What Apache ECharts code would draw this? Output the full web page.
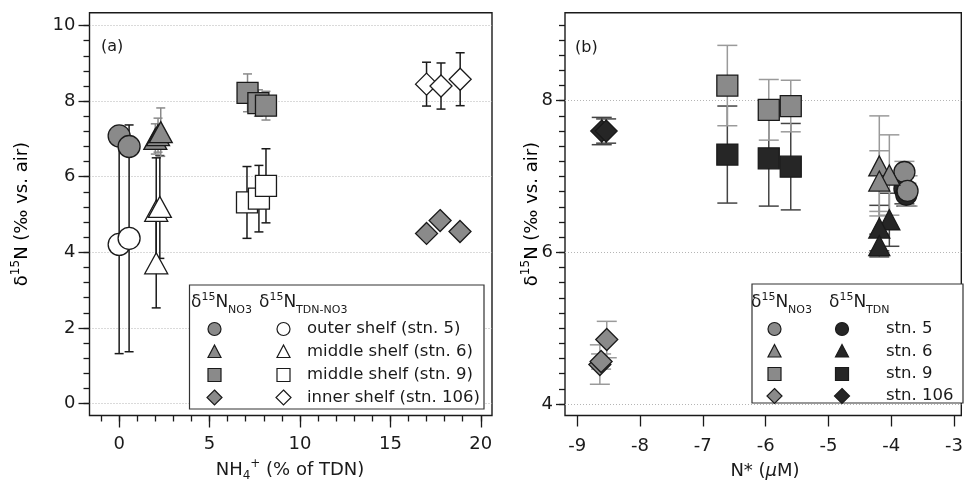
<!DOCTYPE html>
<html>
<head>
<meta charset="utf-8">
<script src="https://cdn.jsdelivr.net/npm/echarts@6/dist/echarts.min.js"></script>
<style>
  html, body { margin: 0; padding: 0; background: #fff; }
  #chart { width: 966px; height: 482px; }
</style>
</head>
<body>
<div id="chart"></div>
<script>
// ---- Panel (a): δ15N vs NH4+ (% of TDN); each point is [x, y, error] ----
const a_no3_stn5   = [[0.0, 7.08, 0.12], [0.55, 6.80, 0.12]];
const a_tdn_stn5   = [[0.0, 4.21, 2.89], [0.55, 4.37, 3.00]];
const a_no3_stn6   = [[2.0, 7.00, 0.40], [2.15, 7.10, 0.45], [2.3, 7.18, 0.64]];
const a_tdn_stn6   = [[2.05, 5.10, 1.40], [2.25, 5.20, 1.36], [2.05, 3.71, 1.18]];
const a_no3_stn9   = [[7.1, 8.22, 0.50], [7.7, 7.95, 0.35], [8.12, 7.88, 0.38]];
const a_tdn_stn9   = [[7.07, 5.32, 0.95], [7.73, 5.42, 0.88], [8.12, 5.76, 0.98]];
const a_no3_stn106 = [[17.0, 4.50, 0.10], [17.75, 4.84, 0.10], [18.85, 4.55, 0.10]];
const a_tdn_stn106 = [[17.0, 8.45, 0.58], [17.8, 8.40, 0.61], [18.86, 8.58, 0.70]];

// ---- Panel (b): δ15N vs N* (µM) ----
const b_no3_stn5   = [[-3.79, 7.06, 0.14], [-3.74, 6.81, 0.20]];
const b_tdn_stn5   = [[-3.79, 6.84, 0.20], [-3.76, 6.76, 0.15]];
const b_no3_stn6   = [[-4.19, 7.14, 0.66], [-4.03, 7.02, 0.53], [-4.19, 6.94, 0.40]];
const b_tdn_stn6   = [[-4.03, 6.43, 0.35], [-4.19, 6.32, 0.30], [-4.19, 6.09, 0.15]];
const b_no3_stn9   = [[-6.61, 8.20, 0.53], [-5.95, 7.88, 0.40], [-5.6, 7.93, 0.34]];
const b_tdn_stn9   = [[-6.61, 7.29, 0.64], [-5.95, 7.24, 0.63], [-5.6, 7.13, 0.57]];
const b_no3_stn106 = [[-8.64, 4.52, 0.26], [-8.62, 4.56, 0.10], [-8.53, 4.85, 0.24]];
const b_tdn_stn106 = [[-8.61, 7.60, 0.18], [-8.54, 7.60, 0.16]];

// ---- Tick labels ----
const aXTicks = [0, 5, 10, 15, 20];
const aYTicks = [0, 2, 4, 6, 8, 10];
const bXTicks = [-9, -8, -7, -6, -5, -4, -3];
const bYTicks = [4, 6, 8];

const legendARows = ['outer shelf (stn. 5)', 'middle shelf (stn. 6)', 'middle shelf (stn. 9)', 'inner shelf (stn. 106)'];
const legendBRows = ['stn. 5', 'stn. 6', 'stn. 9', 'stn. 106'];

// ---- Styling ----
const FONT = '"DejaVu Sans", Verdana, sans-serif';
const INK = '#1a1a1a';
const GRAY = '#8a8a8a';
const DARK = '#262626';

function steps(from, to, step) {
  const out = [];
  const n = Math.round((to - from) / step);
  for (let i = 0; i <= n; i++) out.push(+(from + i * step).toFixed(4));
  return out;
}

function baseAxis(extra) {
  return Object.assign({
    type: 'value',
    axisLine: { show: false, onZero: false },
    splitLine: { show: false },
  }, extra);
}

function errorBars(xi, yi, data, color, cap, z) {
  return {
    type: 'custom', xAxisIndex: xi, yAxisIndex: yi, data: data, z: z, silent: true,
    encode: { x: 0, y: 1 },
    renderItem: function (params, api) {
      const x = api.value(0), y = api.value(1), e = api.value(2);
      const t = api.coord([x, y + e]);
      const b = api.coord([x, y - e]);
      const style = { stroke: color, lineWidth: 1.5 };
      return {
        type: 'group', children: [
          { type: 'line', shape: { x1: t[0], y1: t[1], x2: b[0], y2: b[1] }, style: style },
          { type: 'line', shape: { x1: t[0] - cap, y1: t[1], x2: t[0] + cap, y2: t[1] }, style: style },
          { type: 'line', shape: { x1: b[0] - cap, y1: b[1], x2: b[0] + cap, y2: b[1] }, style: style }
        ]
      };
    }
  };
}

function markers(xi, yi, data, symbol, size, fill, z) {
  return {
    type: 'scatter', xAxisIndex: xi, yAxisIndex: yi, z: z, silent: true,
    data: data.map(function (d) { return [d[0], d[1]]; }),
    symbol: symbol, symbolSize: size,
    itemStyle: { color: fill, borderColor: INK, borderWidth: 1.3, opacity: 1 }
  };
}

const SYM_TRI = 'path://M10,0 L20,17.3 L0,17.3 Z';

// ---- rich text helpers ----
const richBase = {
  b: { fontFamily: FONT, fontSize: 18, color: INK, lineHeight: 24 },
  sup: { fontFamily: FONT, fontSize: 12, color: INK, lineHeight: 12, verticalAlign: 'top' },
  sub: { fontFamily: FONT, fontSize: 12, color: INK, lineHeight: 12, verticalAlign: 'bottom' },
  it: { fontFamily: FONT, fontSize: 18, color: INK, lineHeight: 24, fontStyle: 'italic' }
};
const richLegend = {
  b: { fontFamily: FONT, fontSize: 17, color: INK, lineHeight: 22 },
  sup: { fontFamily: FONT, fontSize: 11, color: INK, lineHeight: 11, verticalAlign: 'top' },
  sub: { fontFamily: FONT, fontSize: 11, color: INK, lineHeight: 10, verticalAlign: 'bottom', padding: [0, 0, -2, 0] }
};

function gText(x, y, text, opts) {
  return {
    type: 'text', x: x, y: y, silent: true,
    style: Object.assign({ text: text, fontFamily: FONT, fontSize: 16, fill: INK, verticalAlign: 'middle', align: 'left' }, opts || {})
  };
}

function legendSymbol(kind, cx, cy, fill) {
  const s = 6.5;
  const style = { fill: fill, stroke: INK, lineWidth: 1.2 };
  if (kind === 'circle') return { type: 'circle', shape: { cx: cx, cy: cy, r: s }, style: style, silent: true };
  if (kind === 'rect') return { type: 'rect', shape: { x: cx - s, y: cy - s, width: 2 * s, height: 2 * s }, style: style, silent: true };
  if (kind === 'triangle') return { type: 'polygon', shape: { points: [[cx, cy - s - 0.5], [cx + s, cy + s - 1], [cx - s, cy + s - 1]] }, style: style, silent: true };
  return { type: 'polygon', shape: { points: [[cx, cy - s - 1], [cx + s + 1, cy], [cx, cy + s + 1], [cx - s - 1, cy]] }, style: style, silent: true };
}

const kinds = ['circle', 'triangle', 'rect', 'diamond'];
const rowsA = [329, 352, 375, 397.5];
const rowsB = [329, 351.5, 374, 396];

const graphics = [];
// legend (a)
graphics.push({ type: 'rect', shape: { x: 189.5, y: 285, width: 294.5, height: 124 }, style: { fill: '#fff', stroke: '#333', lineWidth: 1.2 }, z: 100, silent: true });
graphics.push(Object.assign(gText(191, 303, '{b|δ}{sup|15}{b|N}{sub|NO3}', { rich: richLegend }), { z: 101 }));
graphics.push(Object.assign(gText(259, 303, '{b|δ}{sup|15}{b|N}{sub|TDN-NO3}', { rich: richLegend }), { z: 101 }));
legendARows.forEach(function (label, i) {
  graphics.push(Object.assign(legendSymbol(kinds[i], 214.5, rowsA[i], GRAY), { z: 101 }));
  graphics.push(Object.assign(legendSymbol(kinds[i], 283.5, rowsA[i], '#fff'), { z: 101 }));
  graphics.push(Object.assign(gText(307, rowsA[i], label, { fontSize: 16.5 }), { z: 101 }));
});
// legend (b)
graphics.push({ type: 'rect', shape: { x: 752, y: 284, width: 211, height: 119 }, style: { fill: '#fff', stroke: '#333', lineWidth: 1.2 }, z: 100, silent: true });
graphics.push(Object.assign(gText(751, 303, '{b|δ}{sup|15}{b|N}{sub|NO3}', { rich: richLegend }), { z: 101 }));
graphics.push(Object.assign(gText(829, 303, '{b|δ}{sup|15}{b|N}{sub|TDN}', { rich: richLegend }), { z: 101 }));
legendBRows.forEach(function (label, i) {
  graphics.push(Object.assign(legendSymbol(kinds[i], 774.5, rowsB[i], GRAY), { z: 101 }));
  graphics.push(Object.assign(legendSymbol(kinds[i], 842, rowsB[i], DARK), { z: 101 }));
  graphics.push(Object.assign(gText(886, rowsB[i], label, { fontSize: 16.5 }), { z: 101 }));
});
// panel labels
graphics.push(gText(101, 47, '(a)', { fontSize: 16 }));
graphics.push(gText(575, 48, '(b)', { fontSize: 16 }));
// axis titles
graphics.push(gText(290, 470, '{b|NH}{sub|4}{sup|+}{b| (% of TDN)}', { rich: richBase, align: 'center' }));
graphics.push(gText(765, 471, '{b|N* (}{it|μ}{b|M)}', { rich: richBase, align: 'center' }));
graphics.push({ type: 'text', x: 22, y: 214, rotation: Math.PI / 2, silent: true,
  style: { text: '{b|δ}{sup|15}{b|N (‰ vs. air)}', rich: richBase, align: 'center', verticalAlign: 'middle' } });
graphics.push({ type: 'text', x: 532, y: 214, rotation: Math.PI / 2, silent: true,
  style: { text: '{b|δ}{sup|15}{b|N (‰ vs. air)}', rich: richBase, align: 'center', verticalAlign: 'middle' } });

const tickStyle = { color: INK, width: 1.3 };
const labelStyle = { fontFamily: FONT, fontSize: 18, color: INK };
const gridLine = { show: true, lineStyle: { color: '#b5b5b5', type: [1, 2], width: 1 } };

const option = {
  animation: false,
  backgroundColor: '#fff',
  grid: [
    { left: 89.5, top: 12.7, width: 402.5, height: 402.8, show: true, borderColor: INK, borderWidth: 1.4, containLabel: false },
    { left: 565, top: 12.7, width: 399, height: 402.8, show: true, borderColor: INK, borderWidth: 1.4, containLabel: false }
  ],
  xAxis: [
    baseAxis({ gridIndex: 0, position: 'bottom', min: -1.64, max: 20.62,
      axisTick: { length: 12, customValues: aXTicks, lineStyle: tickStyle },
      axisLabel: Object.assign({ customValues: aXTicks, margin: 20 }, labelStyle) }),
    baseAxis({ gridIndex: 0, position: 'bottom', min: -1.64, max: 20.62,
      axisTick: { length: 6, customValues: steps(-1, 20, 1), lineStyle: tickStyle },
      axisLabel: { show: false } }),
    baseAxis({ gridIndex: 1, position: 'bottom', min: -9.195, max: -2.884,
      axisTick: { length: 11, customValues: bXTicks, lineStyle: tickStyle },
      axisLabel: Object.assign({ customValues: bXTicks, margin: 22 }, labelStyle) })
  ],
  yAxis: [
    baseAxis({ gridIndex: 0, position: 'left', min: -0.317, max: 10.34,
      axisTick: { length: 11, customValues: aYTicks, lineStyle: tickStyle },
      axisLabel: Object.assign({ customValues: aYTicks, margin: 14 }, labelStyle),
      splitLine: gridLine }),
    baseAxis({ gridIndex: 0, position: 'left', min: -0.317, max: 10.34,
      axisTick: { length: 6, customValues: steps(0, 10, 0.4), lineStyle: tickStyle },
      axisLabel: { show: false } }),
    baseAxis({ gridIndex: 1, position: 'left', min: 3.848, max: 9.161,
      axisTick: { length: 9, customValues: bYTicks, lineStyle: tickStyle },
      axisLabel: Object.assign({ customValues: bYTicks, margin: 12 }, labelStyle),
      splitLine: gridLine }),
    baseAxis({ gridIndex: 1, position: 'left', min: 3.848, max: 9.161,
      axisTick: { length: 6, customValues: steps(4, 9, 0.2), lineStyle: tickStyle },
      axisLabel: { show: false } })
  ],
  series: [
    // panel (a): TDN-NO3 (open symbols) underneath, NO3 (gray) on top
    errorBars(0, 0, a_tdn_stn5, INK, 4.5, 2),
    errorBars(0, 0, a_tdn_stn6, INK, 4.5, 2),
    errorBars(0, 0, a_tdn_stn9, INK, 4.5, 2),
    errorBars(0, 0, a_tdn_stn106, INK, 4.5, 2),
    markers(0, 0, a_tdn_stn5, 'circle', 22, '#fff', 3),
    markers(0, 0, a_tdn_stn6, SYM_TRI, [23, 21], '#fff', 3),
    markers(0, 0, a_tdn_stn9, 'rect', 21, '#fff', 3),
    markers(0, 0, a_tdn_stn106, 'diamond', 22, '#fff', 3),
    errorBars(0, 0, a_no3_stn5, GRAY, 4.5, 4),
    errorBars(0, 0, a_no3_stn6, GRAY, 4.5, 4),
    errorBars(0, 0, a_no3_stn9, GRAY, 4.5, 4),
    errorBars(0, 0, a_no3_stn106, GRAY, 4.5, 4),
    markers(0, 0, a_no3_stn5, 'circle', 22, GRAY, 5),
    markers(0, 0, a_no3_stn6, SYM_TRI, [23, 21], GRAY, 5),
    markers(0, 0, a_no3_stn9, 'rect', 21, GRAY, 5),
    markers(0, 0, a_no3_stn106, 'diamond', 22, GRAY, 5),
    // panel (b): TDN (dark) and NO3 (gray)
    errorBars(2, 2, b_tdn_stn5, '#444', 10, 2),
    errorBars(2, 2, b_tdn_stn6, '#444', 10, 2),
    errorBars(2, 2, b_tdn_stn9, '#444', 10, 2),
    errorBars(2, 2, b_tdn_stn106, '#444', 10, 2),
    errorBars(2, 2, b_no3_stn5, '#9a9a9a', 10, 2),
    errorBars(2, 2, b_no3_stn6, '#9a9a9a', 10, 2),
    errorBars(2, 2, b_no3_stn9, '#9a9a9a', 10, 2),
    errorBars(2, 2, b_no3_stn106, '#9a9a9a', 10, 2),
    markers(2, 2, b_tdn_stn5, 'circle', 21, DARK, 3),
    markers(2, 2, b_tdn_stn6, SYM_TRI, [21, 20], DARK, 3),
    markers(2, 2, b_tdn_stn9, 'rect', 21, DARK, 3),
    markers(2, 2, b_tdn_stn106, 'diamond', 22, DARK, 3),
    markers(2, 2, b_no3_stn5, 'circle', 21, GRAY, 4),
    markers(2, 2, b_no3_stn6, SYM_TRI, [21, 20], GRAY, 4),
    markers(2, 2, b_no3_stn9, 'rect', 21, GRAY, 4),
    markers(2, 2, b_no3_stn106, 'diamond', 22, GRAY, 4)
  ],
  graphic: graphics
};

const chart = echarts.init(document.getElementById('chart'), null, { renderer: 'canvas' });
chart.setOption(option);
</script>
</body>
</html>
